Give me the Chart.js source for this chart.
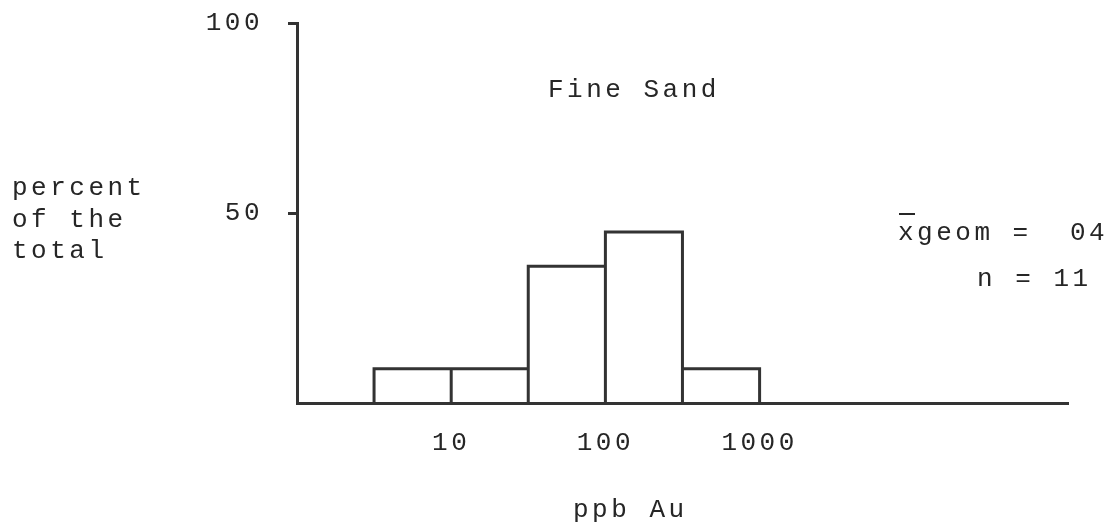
<!DOCTYPE html>
<html lang="en">
<head>
  <meta charset="UTF-8">
  <title>Fine Sand - ppb Au</title>
  <style>
    html, body { margin: 0; padding: 0; background: #fff; }
    .chart-container { width: 1114px; height: 524px; }
  </style>
</head>
<body>
  <div class="chart-container">
    <canvas id="histChart" width="1114" height="524"></canvas>
  </div>

  <script src="https://cdn.jsdelivr.net/npm/chart.js@4.4.0/dist/chart.umd.min.js"></script>
  <script>
    // histogram bins (ppb Au, half-decade edges) and percent of the total
    const binEdges = [3.16, 10, 31.6, 100, 316, 1000];
    const percents = [9, 9, 36, 45, 9];
    const xTicks = [10, 100, 1000];
    const yTicks = [50, 100];

    const ink = '#262626';
    const fontFamily = '"Liberation Mono", "Courier New", monospace';
    const spacing = '3.5px';

    // outline of every bar as one path: up, across, down
    const outline = [];
    percents.forEach((p, i) => {
      outline.push({ x: binEdges[i], y: 0 });
      outline.push({ x: binEdges[i], y: p });
      outline.push({ x: binEdges[i + 1], y: p });
      outline.push({ x: binEdges[i + 1], y: 0 });
    });

    // typewriter-like spacing for all canvas text
    const letterSpacingPlugin = {
      id: 'letterSpacing',
      beforeDraw(chart) {
        chart.ctx.letterSpacing = spacing;
      }
    };

    // free text of the figure
    const notesPlugin = {
      id: 'notes',
      afterDraw(chart) {
        const c = chart.ctx;
        c.save();
        c.letterSpacing = spacing;
        c.fillStyle = ink;
        c.font = '26px ' + fontFamily;
        c.textBaseline = 'middle';
        c.textAlign = 'left';
        c.fillText('percent', 12, 188);
        c.fillText('of the', 12, 220);
        c.fillText('total', 12, 251);
        c.fillText('Fine Sand', 548, 90);
        c.fillText('ppb Au', 573, 510);
        c.fillText('xgeom =  04', 898, 233);
        c.fillText('n = 11', 977, 279);
        // bar over the x of xgeom
        c.strokeStyle = ink;
        c.lineWidth = 2;
        c.beginPath();
        c.moveTo(899, 214);
        c.lineTo(915, 214);
        c.stroke();
        c.restore();
      }
    };

    new Chart(document.getElementById('histChart'), {
      type: 'scatter',
      data: {
        datasets: [{
          label: 'percent of the total',
          data: outline,
          showLine: true,
          fill: false,
          borderColor: '#333',
          borderWidth: 3,
          pointRadius: 0,
          tension: 0,
          clip: false
        }]
      },
      options: {
        responsive: false,
        animation: false,
        events: [],
        layout: { padding: { top: 23, right: 46, left: 0, bottom: 0 } },
        scales: {
          x: {
            type: 'logarithmic',
            min: 1,
            max: 100000,
            afterBuildTicks: (scale) => { scale.ticks = xTicks.map(v => ({ value: v })); },
            afterFit: (scale) => { scale.height = 121; },
            grid: { drawOnChartArea: false, drawTicks: false },
            border: { display: true, color: '#333', width: 3 },
            ticks: {
              autoSkip: false,
              maxRotation: 0,
              padding: 25,
              color: ink,
              font: { family: fontFamily, size: 26 },
              callback: (v) => String(v)
            }
          },
          y: {
            min: 0,
            max: 100,
            afterBuildTicks: (scale) => { scale.ticks = yTicks.map(v => ({ value: v })); },
            afterFit: (scale) => {
              scale.width = 297;
              scale.paddingTop = 16;
              scale.paddingBottom = 0;
            },
            grid: { drawOnChartArea: false, drawTicks: true, tickLength: 9, color: '#333', lineWidth: 3 },
            border: { display: true, color: '#333', width: 3 },
            ticks: {
              padding: 25,
              color: ink,
              font: { family: fontFamily, size: 26 }
            }
          }
        },
        plugins: {
          legend: { display: false },
          tooltip: { enabled: false },
          title: { display: false }
        }
      },
      plugins: [letterSpacingPlugin, notesPlugin]
    });
  </script>
</body>
</html>
